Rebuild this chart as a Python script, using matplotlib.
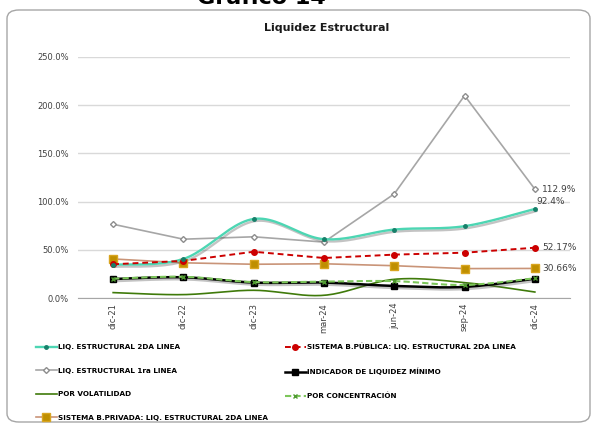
import numpy as np
import matplotlib.pyplot as plt
import matplotlib.patheffects as pe
from matplotlib.patches import FancyBboxPatch

# periods and series (percent)
periods = ['dic-21', 'dic-22', 'dic-23', 'mar-24', 'jun-24', 'sep-24', 'dic-24']
liq_2da = [34.5, 40.5, 82.0, 61.0, 71.0, 74.5, 92.4]
liq_1ra = [76.5, 61.0, 63.5, 58.0, 108.0, 210.0, 112.9]
b_publica = [35.0, 38.5, 48.0, 41.5, 45.0, 47.0, 52.17]
b_privada = [40.5, 36.5, 35.0, 35.5, 33.5, 30.5, 30.66]
ind_minimo = [19.7, 21.5, 16.0, 16.0, 12.5, 11.5, 20.0]
concentracion = [20.0, 22.0, 16.5, 17.0, 17.5, 13.5, 20.5]
volatilidad = [5.6, 3.5, 8.0, 2.8, 19.4, 16.0, 6.2]

lbl_2da = ['', '', '', '', '', '', '92.4%']
lbl_1ra = ['', '', '', '', '', '', '112.9%']
lbl_pub = ['', '', '', '', '', '', '52.17%']
lbl_priv = ['', '', '', '', '', '', '30.66%']


def smooth(ys, n=24):
    # cubic bezier through the points (catmull-rom style control points)
    p = np.column_stack([np.arange(len(ys)), ys]).astype(float)
    out = []
    for i in range(len(p) - 1):
        p0 = p[i - 1] if i > 0 else p[i]
        p1, p2 = p[i], p[i + 1]
        p3 = p[i + 2] if i + 2 < len(p) else p[i + 1]
        c1 = p1 + (p2 - p0) / 6
        c2 = p2 - (p3 - p1) / 6
        t = np.linspace(0, 1, n)[:, None]
        seg = ((1 - t) ** 3) * p1 + 3 * ((1 - t) ** 2) * t * c1 + 3 * (1 - t) * t ** 2 * c2 + t ** 3 * p2
        out.append(seg if i == 0 else seg[1:])
    out = np.vstack(out)
    return out[:, 0], out[:, 1]


plt.rcParams['font.family'] = 'DejaVu Sans'
fig = plt.figure(figsize=(5.97, 4.26), dpi=100)

# outer chart frame
fig.patches.append(FancyBboxPatch((7 / 597, 4 / 426), 583 / 597, 412 / 426,
                                  boxstyle='round,pad=0,rounding_size=0.02',
                                  transform=fig.transFigure, fill=False,
                                  edgecolor='#a6a6a6', linewidth=1))
fig.text(261 / 597, 1 - 3.5 / 426, 'Gráfico 14', fontsize=16, fontweight='bold',
         ha='center', va='baseline')
fig.text(327 / 597, 1 - 28 / 426, 'Liquidez Estructural', fontsize=8,
         fontweight='bold', ha='center', va='center', color='#1a1a1a')

ax = fig.add_axes([78 / 597, 1 - 298 / 426, 492 / 597, 241 / 426])
x = np.arange(len(periods))
shadow = [pe.SimpleLineShadow(offset=(1.2, -1.5), alpha=0.35, shadow_color='#555555'), pe.Normal()]

# LIQ. ESTRUCTURAL 2DA LINEA (smoothed)
sx, sy = smooth(liq_2da)
ax.plot(sx, sy, color='#4dd6b3', lw=1.7, zorder=5, path_effects=shadow)
ax.plot(x, liq_2da, ls='none', marker='o', ms=2.5, color='#17806a', zorder=6)
l_2da, = ax.plot([], [], color='#4dd6b3', lw=1.7, marker='o', ms=2.5,
                 mfc='#17806a', mec='#17806a', label='LIQ. ESTRUCTURAL 2DA LINEA')

# LIQ. ESTRUCTURAL 1ra LINEA
l_1ra, = ax.plot(x, liq_1ra, color='#a6a6a6', lw=1.2, marker='D', ms=3,
                 mfc='white', mec='#8c8c8c', zorder=4, label='LIQ. ESTRUCTURAL 1ra LINEA')

# POR VOLATILIDAD (smoothed)
sx, sy = smooth(volatilidad)
ax.plot(sx, sy, color='#3f7a0a', lw=1.2, zorder=4)
l_vol, = ax.plot([], [], color='#3f7a0a', lw=1.2, label='POR VOLATILIDAD')

# SISTEMA B.PRIVADA
l_priv, = ax.plot(x, b_privada, color='#c99478', lw=1.2, marker='s', ms=5.5,
                  mfc='#bf8f00', mec='#d9a520', zorder=4,
                  label='SISTEMA B.PRIVADA: LIQ. ESTRUCTURAL 2DA LINEA')

# SISTEMA B.PUBLICA
l_pub, = ax.plot(x, b_publica, color='#cc0000', lw=1.4, ls=(0, (3, 2)), marker='o',
                 ms=4, zorder=5, label='SISTEMA B.PÚBLICA: LIQ. ESTRUCTURAL 2DA LINEA')

# INDICADOR DE LIQUIDEZ MINIMO (smoothed)
sx, sy = smooth(ind_minimo)
ax.plot(sx, sy, color='black', lw=1.8, zorder=4, path_effects=shadow)
ax.plot(x, ind_minimo, ls='none', marker='s', ms=4, color='black', zorder=4)
l_ind, = ax.plot([], [], color='black', lw=1.8, marker='s', ms=4,
                 label='INDICADOR DE LIQUIDEZ MÍNIMO')

# POR CONCENTRACION (smoothed)
sx, sy = smooth(concentracion)
ax.plot(sx, sy, color='#7cc65a', lw=1.5, ls=(0, (3, 1.5)), zorder=5)
ax.plot(x, concentracion, ls='none', marker='x', ms=2.5, color='#4f9a30', zorder=5)
l_con, = ax.plot([], [], color='#7cc65a', lw=1.5, ls=(0, (3, 1.5)), marker='x',
                 ms=2.5, mec='#4f9a30', label='POR CONCENTRACIÓN')

# value labels on the last period
for i in range(len(periods)):
    if lbl_1ra[i]:
        ax.annotate(lbl_1ra[i], (x[i], liq_1ra[i]), xytext=(5, 0), textcoords='offset points',
                    fontsize=6.5, color='#404040', va='center')
    if lbl_2da[i]:
        ax.annotate(lbl_2da[i], (x[i], liq_2da[i]), xytext=(1, 5.5), textcoords='offset points',
                    fontsize=6.5, color='#404040', va='center')
    if lbl_pub[i]:
        ax.annotate(lbl_pub[i], (x[i], b_publica[i]), xytext=(5.5, 0), textcoords='offset points',
                    fontsize=6.5, color='#404040', va='center')
    if lbl_priv[i]:
        ax.annotate(lbl_priv[i], (x[i], b_privada[i]), xytext=(5.5, 0), textcoords='offset points',
                    fontsize=6.5, color='#404040', va='center')

ax.set_xlim(-0.5, len(periods) - 0.5)
ax.set_ylim(0, 250)
ax.set_yticks(np.arange(0, 251, 50))
ax.set_yticklabels([f'{v:.1f}%' for v in np.arange(0, 251, 50)])
ax.set_xticks(x)
ax.set_xticklabels(periods, rotation=90)
ax.tick_params(length=0, labelsize=6, labelcolor='#404040')
ax.tick_params(axis='y', pad=6.5)
ax.tick_params(axis='x', pad=3.5)
ax.grid(axis='y', color='#d9d9d9', lw=1)
ax.set_axisbelow(True)
for s in ['top', 'right', 'left']:
    ax.spines[s].set_visible(False)
ax.spines['bottom'].set_color('#a6a6a6')

fig.legend(handles=[l_2da, l_1ra, l_vol, l_priv, l_pub, l_ind, l_con],
           loc='upper left', bbox_to_anchor=(36 / 597, 1 - 343 / 426), ncol=2,
           frameon=False, prop={'size': 5.2, 'weight': 'bold'},
           handlelength=2.9, handletextpad=0.2, columnspacing=2.3, labelspacing=2.4,
           borderpad=0, borderaxespad=0)

fig.savefig('out.png', dpi=100)
